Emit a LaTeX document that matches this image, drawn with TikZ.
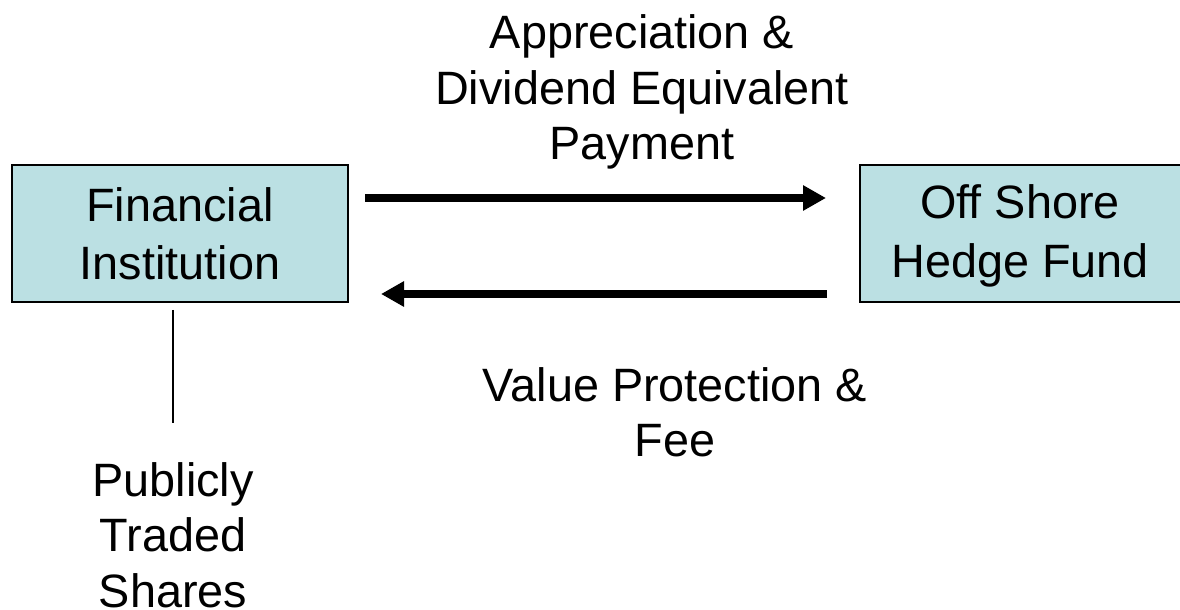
\documentclass[tikz,border=0pt]{standalone}
\usepackage{fontspec}
\setmainfont{Liberation Sans}
\usetikzlibrary{positioning}
\usetikzlibrary{arrows.meta}
\definecolor{boxblue}{RGB}{187,224,227}
\tikzset {
  x=0.5pt, y=-0.5pt,
  % the two parties
  party/.style = {draw, line width=1pt, fill=boxblue, align=center,
    minimum height=68.5pt, inner sep=0pt},
  % text labels
  lbl/.style = {align=center, inner sep=0pt},
  % thick flow arrows
  flow/.style = {line width=4pt, -{Triangle[length=11.5pt,width=12pt]}},
}

\begin{document}
\begin{tikzpicture}[font=\fontsize{23.4}{27.7}\selectfont]
  \useasboundingbox (0,0) rectangle (1180,610);

  \node[party, minimum width=168pt] (fin) at (180,233.5)
    {Financial\\[1.5pt]Institution};
  \node[party, minimum width=165pt] (hedge) at (1025,233.5) {};
  \node[lbl] (hedgetext) at (1020,236) {Off Shore\\[1.5pt]Hedge Fund};

  \node[lbl] (pay) at (642,92) {Appreciation \&\\Dividend Equivalent\\Payment};
  \node[lbl] (fee) at (675,412) {Value Protection \&\\Fee};
  \node[lbl] (shares) at (173,535) {Publicly\\Traded\\Shares};

  \draw [flow, shorten <=8pt, shorten >=16.5pt]
    ([yshift=17.75pt]fin.east) -- ([yshift=17.75pt]hedge.west);
  \draw [flow, shorten <=16pt, shorten >=16pt]
    ([yshift=-30.25pt]hedge.west) -- ([yshift=-30.25pt]fin.east);

  \draw [line width=1pt, shorten <=3.5pt]
    (shares.north |- fin.south) -- (shares.north |- 0,423);
\end{tikzpicture}
\end{document}
